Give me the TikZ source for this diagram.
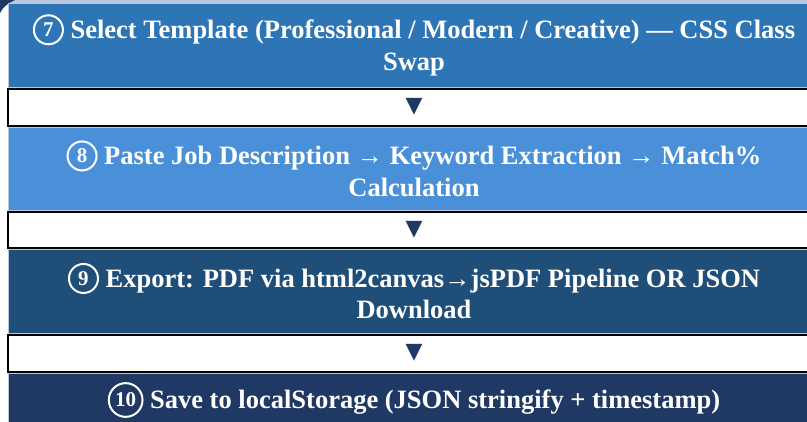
\documentclass[tikz,border=0pt]{standalone}
\usepackage{fontspec}
\setmainfont{Liberation Serif}
\newfontfamily\symfont{DejaVu Sans}
\usepackage{xcolor}
\usetikzlibrary{positioning}
\definecolor{stepblue}{HTML}{2E75B6}
\definecolor{pasteblue}{HTML}{4A90D9}
\definecolor{exportblue}{HTML}{1F4E79}
\definecolor{saveblue}{HTML}{203864}
\definecolor{edgeblue}{HTML}{B9C8DC}
% circled step number
\newcommand\stepnum[1]{\tikz[baseline={([yshift=-8.8pt]num.center)}]\node[circle,draw=white,line width=2pt,
  inner sep=3pt,minimum width=29pt,minimum height=29pt,text=white,font=\bfseries\fontsize{21}{21}\selectfont] (num) {#1};}

\begin{document}
\begin{tikzpicture}[x=1pt,y=-1pt,node distance=0pt,
  stepbox/.style={rectangle,draw=edgeblue,line width=1pt,text=white,minimum width=812pt,align=center,
    font=\fontsize{26.5}{31.5}\selectfont\bfseries,inner sep=0pt},
  gapband/.style={rectangle,draw=black,line width=2pt,fill=white,minimum width=812pt,minimum height=37pt,
    text=saveblue,font=\symfont\fontsize{22}{22}\selectfont,inner sep=0pt}]
\useasboundingbox (0,0) rectangle (807,421);
\clip (0,0) rectangle (807,421);
\fill[edgeblue] (0,0) rectangle (807,3);
\fill[saveblue] (0,0) -- (15,0) .. controls (8,3) and (3,7) .. (0,13) -- cycle;
\node[stepbox,fill=stepblue,minimum height=84pt] (step7) at (414,45)
  {\stepnum{7} Select Template (Professional / Modern / Creative) — CSS Class\\Swap};
\node[gapband] (gap7) [below=of step7] {▼};
\node[stepbox,fill=pasteblue,minimum height=83pt] (step8) [below=of gap7]
  {\stepnum{8} Paste Job Description → Keyword Extraction → Match\%\\Calculation};
\node[gapband,minimum height=36pt] (gap8) [below=of step8] {▼};
\node[stepbox,fill=exportblue,minimum height=84pt] (step9) [below=of gap8]
  {\stepnum{9} Export: PDF via html2canvas→jsPDF Pipeline OR JSON\\Download};
\node[gapband] (gap9) [below=of step9] {▼};
\node[stepbox,fill=saveblue,minimum height=54pt] (step10) [below=of gap9]
  {\stepnum{10} Save to localStorage (JSON stringify + timestamp)};
\end{tikzpicture}
\end{document}
